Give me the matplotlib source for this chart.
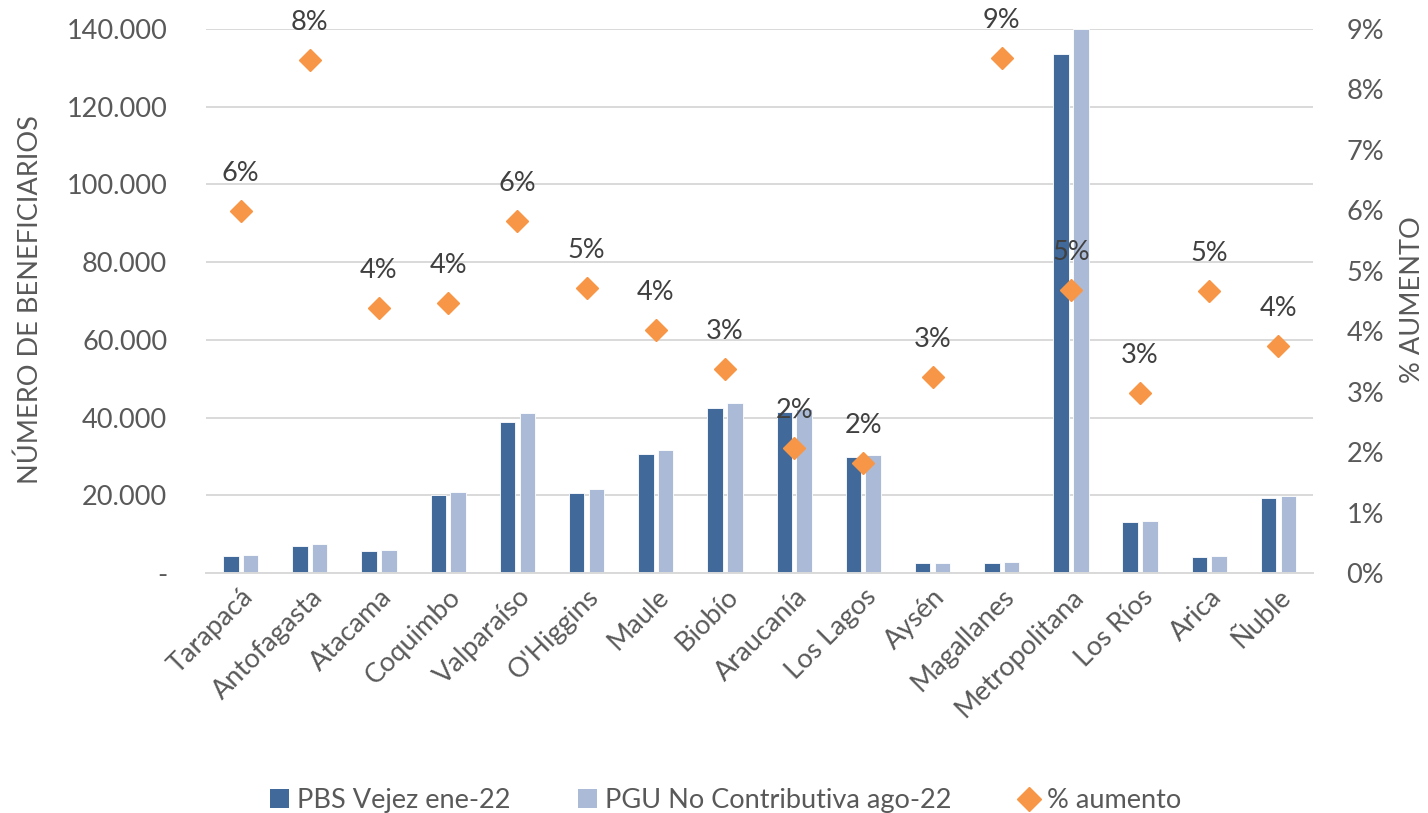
import numpy as np
import matplotlib
matplotlib.use("Agg")
import matplotlib.pyplot as plt
from matplotlib.patches import Patch
from matplotlib.lines import Line2D
from matplotlib.ticker import FuncFormatter, MultipleLocator

plt.rcParams['font.family'] = ['Lato', 'DejaVu Sans']

regiones = ['Tarapacá', 'Antofagasta', 'Atacama', 'Coquimbo', 'Valparaíso', "O'Higgins",
            'Maule', 'Biobío', 'Araucanía', 'Los Lagos', 'Aysén', 'Magallanes',
            'Metropolitana', 'Los Ríos', 'Arica', 'Ñuble']
pbs_ene22 = [4270, 6840, 5730, 19950, 38900, 20640, 30550, 42400, 41360, 29780,
             2570, 2570, 133600, 13000, 4070, 19330]
pgu_ago22 = [4630, 7450, 5990, 20900, 41200, 21670, 31660, 43760, 42200, 30290,
             2660, 2830, 140000, 13300, 4370, 19920]
pct_aumento = [0.0599, 0.0849, 0.0439, 0.0447, 0.0583, 0.0472, 0.0402, 0.0338, 0.0207, 0.0182,
               0.0325, 0.0852, 0.0469, 0.0298, 0.0467, 0.0375]

c_dark = '#416A9B'
c_light = '#ABBAD7'
c_orange = '#F79646'
c_tick = '#595959'
c_lab = '#404040'
c_grid = '#D9D9D9'
fs = 19.5

fig = plt.figure(figsize=(14.28, 8.13), dpi=100)
ax1 = fig.add_axes([0.1443, 0.2952, 0.7752, 0.6691])
ax2 = ax1.twinx()

x = np.arange(len(regiones))
w = 0.224
off = 0.143
ax1.bar(x - off, pbs_ene22, w, color=c_dark, edgecolor='white', linewidth=0.6, zorder=2)
ax1.bar(x + off, pgu_ago22, w, color=c_light, edgecolor='white', linewidth=0.6, zorder=2)

ax1.set_xlim(-0.5, len(regiones) - 0.5)
ax1.set_ylim(0, 140000)
ax1.yaxis.set_major_locator(MultipleLocator(20000))
ax1.yaxis.set_major_formatter(FuncFormatter(
    lambda v, p: '-' if v == 0 else f'{int(v):,}'.replace(',', '.')))
ax1.grid(axis='y', color=c_grid, linewidth=1.4, zorder=0)
ax1.set_axisbelow(True)
for s in ['top', 'left', 'right']:
    ax1.spines[s].set_visible(False)
ax1.spines['bottom'].set_color(c_grid)
ax1.spines['bottom'].set_linewidth(1.4)
ax1.set_xticks(x)
ax1.set_xticklabels(regiones, rotation=45, ha='right', rotation_mode='anchor')
ax1.tick_params(axis='x', length=0, pad=8, labelsize=fs, labelcolor=c_tick)
ax1.tick_params(axis='y', length=0, pad=28, labelsize=fs, labelcolor=c_tick)

ax2.plot(x, pct_aumento, linestyle='none', marker='D', markersize=11,
         color=c_orange, zorder=3)
for xi, v in zip(x, pct_aumento):
    ax2.annotate(f'{v*100:.0f}%', (xi, v), xytext=(0, 27), textcoords='offset points',
                 ha='center', va='center', fontsize=fs, color=c_lab)
ax2.set_ylim(0, 0.09)
ax2.yaxis.set_major_locator(MultipleLocator(0.01))
ax2.yaxis.set_major_formatter(FuncFormatter(lambda v, p: f'{v*100:.0f}%'))
ax2.tick_params(axis='y', length=0, pad=24, labelsize=fs, labelcolor=c_tick)
for s in ['top', 'left', 'right', 'bottom']:
    ax2.spines[s].set_visible(False)

# axis titles
fig.text(30 / 1428, 1 - 300 / 813, 'NÚMERO DE BENEFICIARIOS', rotation=90,
         ha='center', va='center', fontsize=fs, color=c_tick)
fig.text(1412 / 1428, 1 - 300 / 813, '% AUMENTO', rotation=90,
         ha='center', va='center', fontsize=fs, color=c_tick)

handles = [Patch(facecolor=c_dark), Patch(facecolor=c_light),
           Line2D([], [], linestyle='none', marker='D', markersize=12, color=c_orange)]
labels = ['PBS Vejez ene-22', 'PGU No Contributiva ago-22', '% aumento']
fig.legend(handles, labels, loc='lower center', bbox_to_anchor=(0.508, -0.03), ncol=3,
           frameon=False, fontsize=fs, labelcolor=c_tick, handlelength=0.7,
           handleheight=0.7, handletextpad=0.3, columnspacing=2.5)

fig.savefig('out.png', dpi=100)
